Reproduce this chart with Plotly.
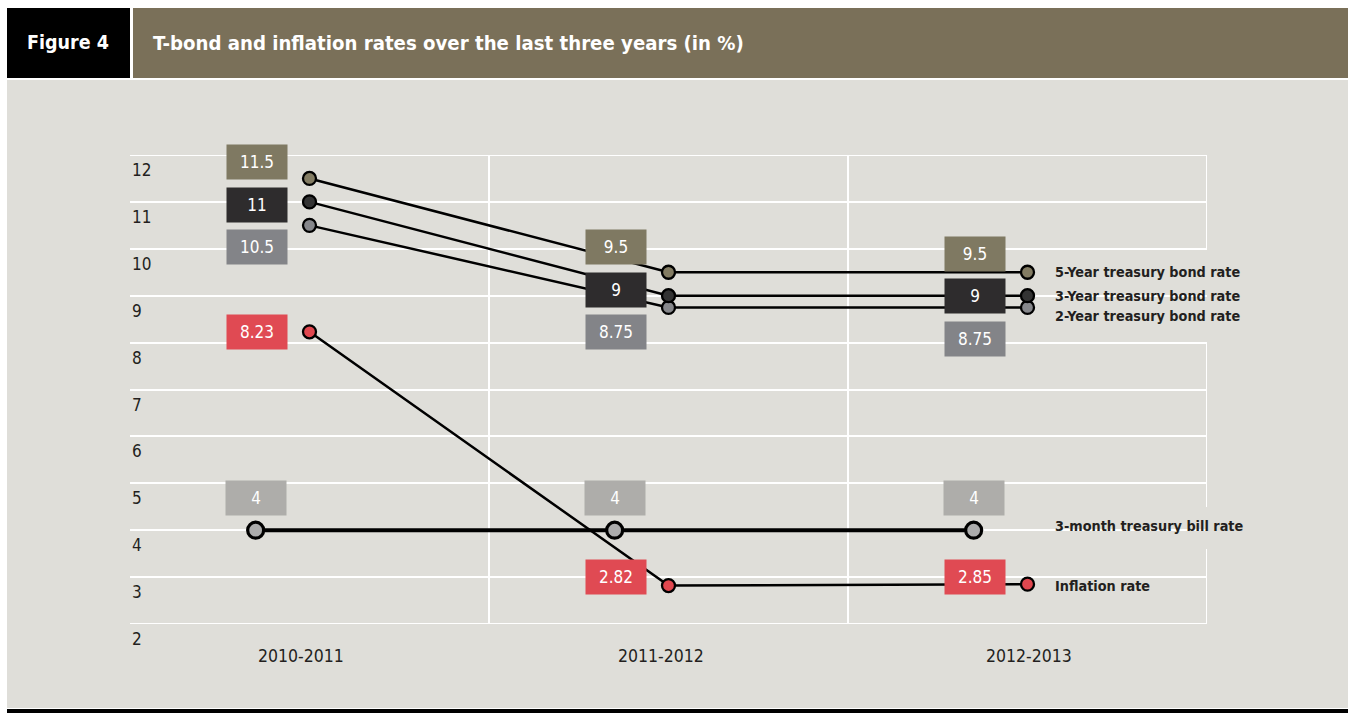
import plotly.graph_objects as go

# ---------------- data ----------------
years = ["2010-2011", "2011-2012", "2012-2013"]
series_names = ["5-Year treasury bond rate", "3-Year treasury bond rate",
                "2-Year treasury bond rate", "3-month treasury bill rate", "Inflation rate"]
bond5 = [11.5, 9.5, 9.5]
bond3 = [11, 9, 9]
bond2 = [10.5, 8.75, 8.75]
bill3m = [4, 4, 4]
inflation = [8.23, 2.82, 2.85]
y_ticks = [2, 3, 4, 5, 6, 7, 8, 9, 10, 11, 12]

# ---------------- styling / layout helpers ----------------
FONT = "DejaVu Sans Condensed, Liberation Sans Narrow, Roboto, sans-serif"
BG = "#dfded9"
W, H = 1348, 713
L, R, T, B = 130, 1207, 155, 624


def pxx(x):
    return (x - L) / (R - L)


def pxy(y):
    return (B - y) / (B - T)


cols = [0.5, 1.5, 2.5]
bill_x = [c - 0.15 for c in cols]
box_dx = -0.145

styles = {
    "5-Year treasury bond rate": dict(y=bond5, x=cols, dot="#837c63", box="#7f7962", lw=2.5, ms=13,
                                      dy=[0.36, 0.54, 0.39], bx=[c + box_dx for c in cols], lab_shift=0),
    "3-Year treasury bond rate": dict(y=bond3, x=cols, dot="#333333", box="#2e2c2d", lw=2.5, ms=13,
                                      dy=[-0.06, 0.13, 0.0], bx=[c + box_dx for c in cols], lab_shift=0),
    "2-Year treasury bond rate": dict(y=bond2, x=cols, dot="#86878b", box="#838488", lw=2.5, ms=13,
                                      dy=[-0.46, -0.52, -0.67], bx=[c + box_dx for c in cols], lab_shift=-9),
    "3-month treasury bill rate": dict(y=bill3m, x=bill_x, dot="#acacac", box="#aeadaa", lw=4, ms=16,
                                       dy=[0.68, 0.68, 0.68], bx=bill_x, lab_shift=4),
    "Inflation rate": dict(y=inflation, x=cols, dot="#e0474f", box="#e04a53", lw=2.5, ms=13,
                           dy=[0.0, 0.18, 0.15], bx=[c + box_dx for c in cols], lab_shift=-2),
}

fig = go.Figure()

draw_order = ["3-month treasury bill rate", "Inflation rate", "2-Year treasury bond rate",
              "3-Year treasury bond rate", "5-Year treasury bond rate"]
for name in draw_order:
    s = styles[name]
    fig.add_trace(go.Scatter(
        x=s["x"], y=s["y"], mode="lines+markers", name=name, showlegend=False,
        line=dict(color="black", width=s["lw"]),
        marker=dict(size=s["ms"], color=s["dot"],
                    line=dict(color="black", width=3.2 if name.startswith("3-month") else 2.3)),
        hoverinfo="skip"))

annotations = []
# value boxes
for name in series_names:
    s = styles[name]
    for i, v in enumerate(s["y"]):
        annotations.append(dict(
            x=s["bx"][i], y=v + s["dy"][i], xref="x", yref="y", text=f"{v:g}",
            showarrow=False, bgcolor=s["box"], width=58, height=32, borderpad=1,
            font=dict(family=FONT, size=17, color="white"), xanchor="center", yanchor="middle"))
    # series labels on the right
    annotations.append(dict(
        x=cols[2] + 25 / 359, y=s["y"][-1], xref="x", yref="y", text=f"<b>{name}</b>",
        showarrow=False, xanchor="left", yanchor="middle", yshift=s["lab_shift"],
        font=dict(family=FONT, size=14.3, color="#231f20")))

# y tick labels (placed just below each grid line)
for v in y_ticks:
    annotations.append(dict(x=0, y=v, xref="paper", yref="y", text=str(v), showarrow=False,
                            xanchor="left", yanchor="middle", yshift=-15,
                            font=dict(family=FONT, size=17, color="#231f20")))
# x category labels
xlab_shift = [-9, -8, 1]
for c, yr, sh in zip(cols, years, xlab_shift):
    annotations.append(dict(x=c, y=2, xref="x", yref="y", text=yr, showarrow=False,
                            xanchor="center", yanchor="middle", yshift=-32, xshift=sh,
                            font=dict(family=FONT, size=17.5, color="#231f20")))

# header texts
annotations.append(dict(x=pxx(68), y=pxy(43), xref="paper", yref="paper", text="<b>Figure 4</b>",
                        showarrow=False, xanchor="center", yanchor="middle",
                        font=dict(family=FONT, size=19.5, color="white")))
annotations.append(dict(x=pxx(151), y=pxy(43), xref="paper", yref="paper",
                        text="<b>T-bond and inflation rates over the last three years (in %)</b>",
                        showarrow=False, xanchor="left", yanchor="middle",
                        font=dict(family=FONT, size=20.2, color="white")))

shapes = []


def rect(x0, y0, x1, y1, color, layer="below"):
    shapes.append(dict(type="rect", xref="paper", yref="paper",
                       x0=pxx(x0), x1=pxx(x1), y0=pxy(y1), y1=pxy(y0),
                       fillcolor=color, line=dict(width=0), layer=layer))


# page decoration
rect(7, 8, 130, 78, "black")
rect(133, 8, W, 78, "#7a7059")
rect(7, 80, W, 708, BG)
rect(7, 709, W, H, "black")

# masks behind the series labels
rect(1036, 251, 1206, 341, BG, "between")
rect(982, 510, 1206, 548, BG, "between")
rect(850, 552, 1205, 602, BG, "between")

# edge grid lines (plotly hides grid lines that sit on the plot edge)
for yv in (y_ticks[0], y_ticks[-1]):
    shapes.append(dict(type="line", xref="x", yref="y", x0=0, x1=3, y0=yv, y1=yv,
                       line=dict(color="white", width=2), layer="between"))
# right edge grid line with gaps where labels sit
for y0, y1 in [(T, 249), (343, 507), (549, B)]:
    shapes.append(dict(type="line", xref="x", yref="paper", x0=3, x1=3, y0=pxy(y1), y1=pxy(y0),
                       line=dict(color="white", width=2), layer="between"))

fig.update_layout(
    width=W, height=H, autosize=False,
    margin=dict(l=L, r=W - R, t=T, b=H - B, pad=0),
    paper_bgcolor="white", plot_bgcolor=BG,
    xaxis=dict(range=[0, 3], tickvals=[1, 2], showticklabels=False, showgrid=True,
               gridcolor="white", gridwidth=2, zeroline=False, showline=False, ticks=""),
    yaxis=dict(range=[2, 12], tickvals=y_ticks, showticklabels=False, showgrid=True,
               gridcolor="white", gridwidth=2, zeroline=False, showline=False, ticks=""),
    annotations=annotations, shapes=shapes,
    font=dict(family=FONT),
)

fig.write_html("out.html", config={"displayModeBar": False},
               post_script="document.body.style.margin='0';document.body.style.overflow='hidden';")
